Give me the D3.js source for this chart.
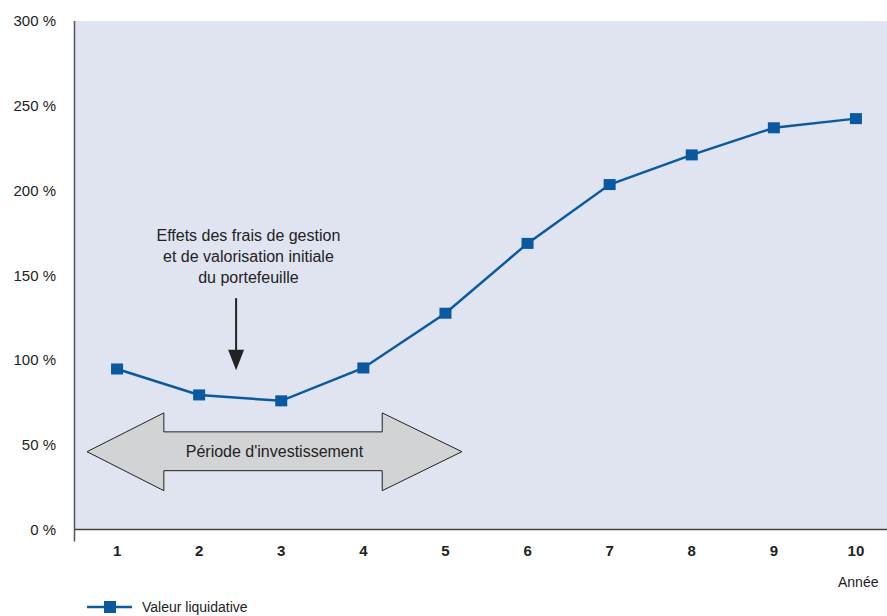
<!DOCTYPE html>
<html>
<head>
<meta charset="utf-8">
<script src="https://cdn.jsdelivr.net/npm/d3@7"></script>
<style>
  body { margin: 0; background: #fff; }
  svg text { font-family: "Liberation Sans Narrow", "Arial Narrow", "Liberation Sans", sans-serif; }
</style>
</head>
<body>
<div id="wrapper"></div>
<script>
// data
const years = [1, 2, 3, 4, 5, 6, 7, 8, 9, 10]
const valeurLiquidative = [94.7, 79.4, 75.9, 95.3, 127.6, 168.8, 203.5, 221, 237, 242.4]
const yTicks = [0, 50, 100, 150, 200, 250, 300]
const annotationLines = ["Effets des frais de gestion", "et de valorisation initiale", "du portefeuille"]
const periodLabel = "Période d'investissement"
const seriesLabel = "Valeur liquidative"
const xAxisTitle = "Année"

function drawChart() {
  const dimensions = {
    width: 887,
    height: 616,
    margin: { top: 21, right: 0, bottom: 86, left: 75 }
  }
  dimensions.boundedWidth = dimensions.width - dimensions.margin.left - dimensions.margin.right
  dimensions.boundedHeight = dimensions.height - dimensions.margin.top - dimensions.margin.bottom

  const svg = d3.select("#wrapper").append("svg")
      .attr("width", dimensions.width)
      .attr("height", dimensions.height)

  const bounds = svg.append("g")
      .attr("transform", `translate(${dimensions.margin.left},${dimensions.margin.top})`)

  // scales
  const xScale = d3.scaleLinear()
    .domain([0.5, 10.5])
    .range([1, 822])
  const yScale = d3.scaleLinear()
    .domain([0, 300])
    .range([dimensions.boundedHeight - 0.5, 0])

  // plot background
  bounds.append("rect")
      .attr("x", 0)
      .attr("y", 0)
      .attr("width", dimensions.boundedWidth)
      .attr("height", yScale(0))
      .attr("fill", "#dfe4f0")

  // y axis labels
  bounds.selectAll(".ytick")
    .data(yTicks)
    .join("text")
      .attr("class", "ytick")
      .attr("x", -19)
      .attr("y", d => yScale(d))
      .attr("dy", "0.35em")
      .attr("text-anchor", "end")
      .attr("font-size", 15)
      .attr("fill", "#222")
      .text(d => `${d} %`)

  // axis lines
  bounds.append("line")
      .attr("x1", -0.5).attr("x2", -0.5)
      .attr("y1", 0).attr("y2", yScale(0) + 12)
      .attr("stroke", "#555").attr("stroke-width", 1.5)
  bounds.append("line")
      .attr("x1", 0).attr("x2", dimensions.boundedWidth)
      .attr("y1", yScale(0)).attr("y2", yScale(0))
      .attr("stroke", "#444").attr("stroke-width", 1.5)

  // x tick labels
  bounds.selectAll(".xtick")
    .data(years)
    .join("text")
      .attr("class", "xtick")
      .attr("x", d => xScale(d))
      .attr("y", yScale(0) + 21)
      .attr("dy", "0.35em")
      .attr("text-anchor", "middle")
      .attr("font-size", 15)
      .attr("font-weight", "bold")
      .attr("fill", "#222")
      .text(d => d)

  bounds.append("text")
      .attr("x", 763)
      .attr("y", yScale(0) + 53)
      .attr("dy", "0.35em")
      .attr("font-size", 14)
      .attr("fill", "#222")
      .text(xAxisTitle)

  // double arrow (data units)
  const arrow = { tipL: 0.634, headL: 1.57, headR: 4.23, tipR: 5.2, mid: 45.9, headTop: 68.8, headBot: 22.9, shaftTop: 57.6, shaftBot: 34.7 }
  const arrowPts = [
    [arrow.tipL, arrow.mid], [arrow.headL, arrow.headTop], [arrow.headL, arrow.shaftTop],
    [arrow.headR, arrow.shaftTop], [arrow.headR, arrow.headTop], [arrow.tipR, arrow.mid],
    [arrow.headR, arrow.headBot], [arrow.headR, arrow.shaftBot], [arrow.headL, arrow.shaftBot],
    [arrow.headL, arrow.headBot]
  ]
  bounds.append("path")
      .attr("d", d3.line().x(d => xScale(d[0])).y(d => yScale(d[1])).curve(d3.curveLinearClosed)(arrowPts))
      .attr("fill", "#d2d3d5")
      .attr("stroke", "#222")
      .attr("stroke-width", 1)
  bounds.append("text")
      .attr("x", xScale((arrow.tipL + arrow.tipR) / 2))
      .attr("y", yScale(arrow.mid))
      .attr("dy", "0.35em")
      .attr("text-anchor", "middle")
      .attr("font-size", 16)
      .attr("fill", "#222")
      .text(periodLabel)

  // down arrow annotation
  const downX = 2.45
  bounds.append("line")
      .attr("x1", xScale(downX)).attr("x2", xScale(downX))
      .attr("y1", yScale(136.5)).attr("y2", yScale(102))
      .attr("stroke", "#222").attr("stroke-width", 2)
  bounds.append("path")
      .attr("d", `M${xScale(downX) - 8},${yScale(106)} L${xScale(downX) + 8},${yScale(106)} L${xScale(downX)},${yScale(94)} Z`)
      .attr("fill", "#222")
  bounds.selectAll(".annot")
    .data(annotationLines)
    .join("text")
      .attr("class", "annot")
      .attr("x", xScale(2.6))
      .attr("y", (d, i) => 214 + i * 21)
      .attr("dy", "0.35em")
      .attr("text-anchor", "middle")
      .attr("font-size", 16)
      .attr("fill", "#222")
      .text(d => d)

  // series
  const lineGen = d3.line()
    .x((d, i) => xScale(years[i]))
    .y(d => yScale(d))
  bounds.append("path")
      .attr("d", lineGen(valeurLiquidative))
      .attr("fill", "none")
      .attr("stroke", "#0b5aa0")
      .attr("stroke-width", 2.5)
  bounds.selectAll(".marker")
    .data(valeurLiquidative)
    .join("rect")
      .attr("class", "marker")
      .attr("x", (d, i) => xScale(years[i]) - 6)
      .attr("y", d => yScale(d) - 5.5)
      .attr("width", 12)
      .attr("height", 11)
      .attr("fill", "#0a58a0")

  // legend
  const legend = svg.append("g")
      .attr("transform", "translate(87,607)")
  legend.append("line")
      .attr("x1", 0).attr("x2", 45)
      .attr("stroke", "#0b5aa0").attr("stroke-width", 2.5)
  legend.append("rect")
      .attr("x", 17).attr("y", -6)
      .attr("width", 12).attr("height", 12)
      .attr("fill", "#0a58a0")
  legend.append("text")
      .attr("x", 55)
      .attr("dy", "0.35em")
      .attr("font-size", 14)
      .attr("fill", "#222")
      .text(seriesLabel)
}

drawChart()
</script>
</body>
</html>
